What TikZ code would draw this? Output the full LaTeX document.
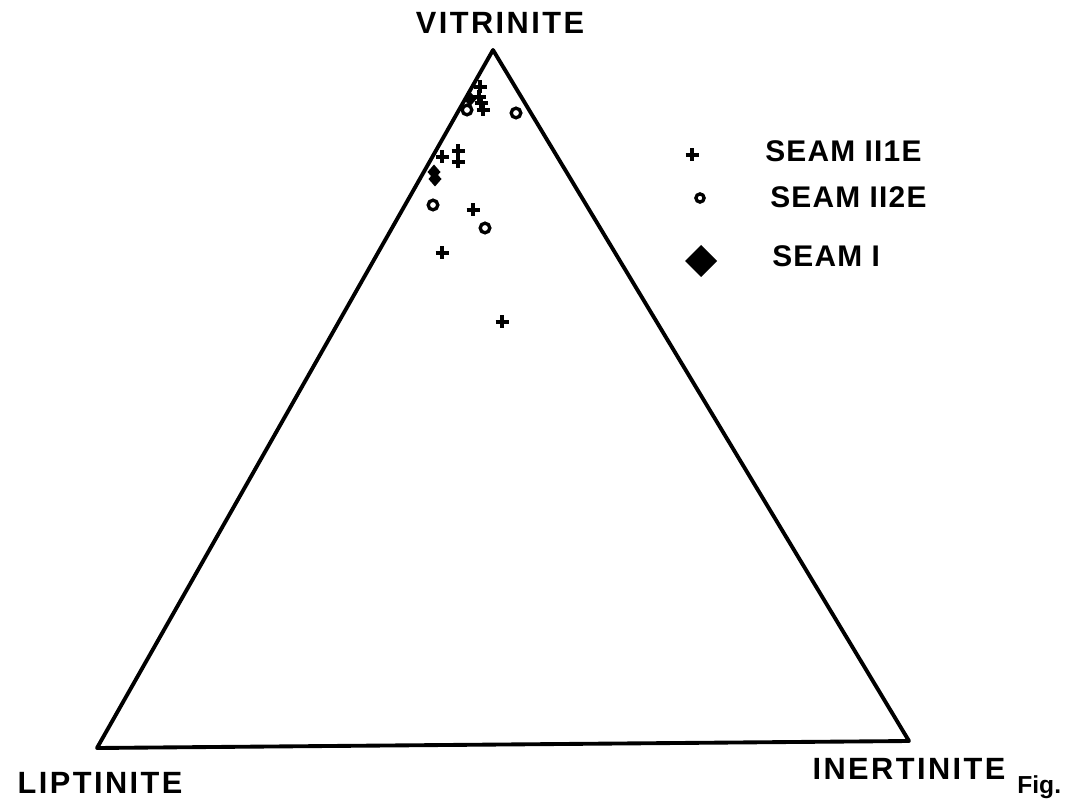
\documentclass[tikz,border=0pt]{standalone}
\usepackage{fontspec}
\setmainfont{Liberation Sans}
\newfontfamily\cornerfont[LetterSpace=8]{Liberation Sans}
\newfontfamily\keyfont[LetterSpace=4]{Liberation Sans}
\usetikzlibrary{positioning}

\tikzset{
  plusmark/.pic={\draw[line width=2.2pt] (-6.5,0) -- (6.5,0) (0,-6.5) -- (0,6.5);},
  circmark/.pic={\draw[line width=1.9pt] (0,0) circle (4.8);},
  diamark/.pic={\fill (-6.5,0) -- (0,-7.5) -- (6.5,0) -- (0,7.5) -- cycle;},
  cornerlabel/.style={font=\cornerfont\bfseries\fontsize{17.5}{20}\selectfont,inner sep=0pt},
  keylabel/.style={font=\keyfont\bfseries\fontsize{17}{20}\selectfont,inner sep=0pt,anchor=west}
}

\begin{document}
\begin{tikzpicture}[x=0.02cm,y=-0.02cm]
  \useasboundingbox (0,0) rectangle (1078,800);

  %triangle
  \coordinate (vit) at (493,50);
  \coordinate (lip) at (97,748);
  \coordinate (ine) at (909,741);
  \draw[line width=2.2pt,line join=round] (vit) -- (lip) -- (ine) -- cycle;

  %corner labels
  \node[cornerlabel] (vitlabel) at (500,23) {VITRINITE};
  \node[cornerlabel] (liplabel) at (100,783) {LIPTINITE};
  \node[cornerlabel] (inelabel) at (909,769) {INERTINITE};
  \node[font=\bfseries\fontsize{14}{16}\selectfont,inner sep=0pt,anchor=base west] (figlabel) at (1017,793) {Fig.};

  %seam II1E
  \foreach \px/\py in {480/87,479/97,481/103,483/110,442/157,458/151,458/162,473/210,442/253,502/322}
    \pic at (\px,\py) {plusmark};

  %seam II2E
  \foreach \px/\py in {467/110,516/113,433/205,485/228}
    \pic at (\px,\py) {circmark};

  %seam I
  \foreach \px/\py in {470/99,434/172,435/179}
    \pic at (\px,\py) {diamark};

  %key
  \pic at (692,155) {plusmark};
  \node[keylabel] (keyone) at (765,151) {SEAM II1E};
  \pic[scale=0.85] at (700,198) {circmark};
  \node[keylabel] (keytwo) at (770,197) {SEAM II2E};
  \fill (685,261) -- (701,245) -- (717,261) -- (701,277) -- cycle;
  \node[keylabel] (keythree) at (772,256) {SEAM I};
\end{tikzpicture}
\end{document}
